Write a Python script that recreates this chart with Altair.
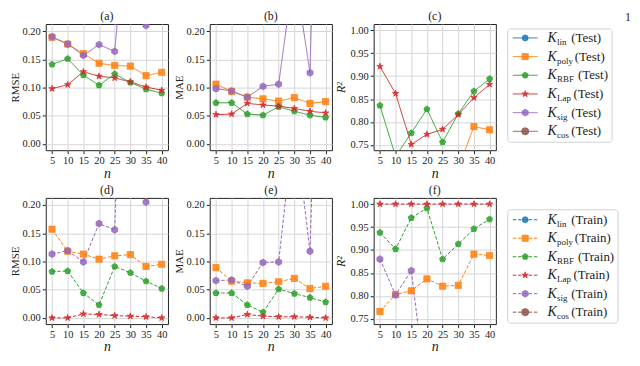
import altair as alt
import pandas as pd

FONT = "Liberation Serif"

n_values = [5, 10, 15, 20, 25, 30, 35, 40]
kernels = ["lin", "poly", "RBF", "Lap", "sig", "cos"]
kernel_colors = ["#1f77b4", "#ff7f0e", "#2ca02c", "#d62728", "#9467bd", "#8c564b"]

# ---- Test ----
rmse_test_poly = [0.189, 0.177, 0.160, 0.143, 0.139, 0.138, 0.121, 0.127]
rmse_test_rbf = [0.141, 0.151, 0.122, 0.104, 0.124, 0.109, 0.097, 0.090]
rmse_test_lap = [0.098, 0.105, 0.128, 0.120, 0.117, 0.110, 0.101, 0.095]
rmse_test_sig = [0.190, 0.177, 0.157, 0.176, 0.164, 0.47, 0.210, 0.60]

mae_test_poly = [0.106, 0.093, 0.083, 0.080, 0.076, 0.082, 0.072, 0.075]
mae_test_rbf = [0.073, 0.073, 0.053, 0.051, 0.066, 0.058, 0.051, 0.047]
mae_test_lap = [0.052, 0.053, 0.072, 0.069, 0.067, 0.063, 0.058, 0.055]
mae_test_sig = [0.098, 0.094, 0.083, 0.102, 0.106, 0.31, 0.126, 1.2]

r2_test_poly = [0.70, 0.61, 0.62, 0.69, 0.70, 0.70, 0.790, 0.783]
r2_test_rbf = [0.836, 0.725, 0.776, 0.828, 0.756, 0.818, 0.867, 0.894]
r2_test_lap = [0.921, 0.862, 0.751, 0.773, 0.784, 0.816, 0.853, 0.882]
r2_test_sig = [0.70, 0.61, 0.63, 0.52, 0.58, -2.3, 0.37, -3.0]

# ---- Train ----
rmse_train_poly = [0.157, 0.118, 0.113, 0.104, 0.110, 0.112, 0.091, 0.095]
rmse_train_rbf = [0.082, 0.083, 0.044, 0.023, 0.091, 0.080, 0.065, 0.052]
rmse_train_lap = [0.000, 0.000, 0.007, 0.006, 0.004, 0.003, 0.002, 0.000]
rmse_train_sig = [0.113, 0.119, 0.099, 0.167, 0.156, 1.0, 0.205, 1.2]

mae_train_poly = [0.089, 0.065, 0.062, 0.061, 0.064, 0.070, 0.052, 0.056]
mae_train_rbf = [0.044, 0.044, 0.023, 0.010, 0.051, 0.043, 0.036, 0.028]
mae_train_lap = [0.000, 0.000, 0.006, 0.003, 0.002, 0.002, 0.001, 0.000]
mae_train_sig = [0.066, 0.067, 0.056, 0.098, 0.099, 0.35, 0.118, 1.0]

r2_train_poly = [0.766, 0.803, 0.811, 0.837, 0.821, 0.823, 0.891, 0.888]
r2_train_rbf = [0.938, 0.902, 0.970, 0.991, 0.880, 0.913, 0.946, 0.967]
r2_train_lap = [1.000, 1.000, 1.000, 1.000, 1.000, 1.000, 1.000, 1.000]
r2_train_sig = [0.880, 0.802, 0.855, 0.58, 0.64, -5.0, 0.45, -6.0]

panel_titles = ["(a)", "(b)", "(c)", "(d)", "(e)", "(f)"]
err_ticks = [0.00, 0.05, 0.10, 0.15, 0.20]
r2_ticks = [0.75, 0.80, 0.85, 0.90, 0.95, 1.00]

series = {
    ("RMSE", "Test"): {"poly": rmse_test_poly, "RBF": rmse_test_rbf, "Lap": rmse_test_lap, "sig": rmse_test_sig},
    ("MAE", "Test"): {"poly": mae_test_poly, "RBF": mae_test_rbf, "Lap": mae_test_lap, "sig": mae_test_sig},
    ("R²", "Test"): {"poly": r2_test_poly, "RBF": r2_test_rbf, "Lap": r2_test_lap, "sig": r2_test_sig},
    ("RMSE", "Train"): {"poly": rmse_train_poly, "RBF": rmse_train_rbf, "Lap": rmse_train_lap, "sig": rmse_train_sig},
    ("MAE", "Train"): {"poly": mae_train_poly, "RBF": mae_train_rbf, "Lap": mae_train_lap, "sig": mae_train_sig},
    ("R²", "Train"): {"poly": r2_train_poly, "RBF": r2_train_rbf, "Lap": r2_train_lap, "sig": r2_train_sig},
}

PENTAGON = "M0,-1L0.951,-0.309L0.588,0.809L-0.588,0.809L-0.951,-0.309Z"
STAR = ("M0,-1L0.2245,-0.309L0.951,-0.309L0.3633,0.118L0.588,0.809L0,0.382"
        "L-0.588,0.809L-0.3633,0.118L-0.951,-0.309L-0.2245,-0.309Z")
HEXAGON = "M0,-1L0.866,-0.5L0.866,0.5L0,1L-0.866,0.5L-0.866,-0.5Z"
shape_range = ["circle", "square", PENTAGON, STAR, HEXAGON, "circle"]
size_range = [36, 52, 52, 66, 50, 36]

W, H = 123, 127
DASH = {"Test": [1, 0], "Train": [3.5, 1.8]}

color_scale = alt.Scale(domain=kernels, range=kernel_colors)
color_enc = alt.Color("kernel:N", scale=color_scale, legend=None)
stroke_enc = alt.Stroke("kernel:N", scale=color_scale, legend=None)
shape_enc = alt.Shape("kernel:N", scale=alt.Scale(domain=kernels, range=shape_range), legend=None)
size_enc = alt.Size("kernel:O", scale=alt.Scale(domain=kernels, range=size_range), legend=None)


def panel(idx, metric, split):
    rows = []
    for k in kernels:
        vals = series[(metric, split)].get(k)
        if vals is None:
            continue
        for n, v in zip(n_values, vals):
            rows.append({"n": n, "value": v, "kernel": k})
    df = pd.DataFrame(rows)
    if metric == "R²":
        ydom, yt = [0.7385, 1.0135], r2_ticks
    else:
        ydom, yt = [-0.011, 0.2125], err_ticks
    base = alt.Chart(df).encode(
        x=alt.X("n:Q", scale=alt.Scale(domain=[3.0, 42.0], nice=False, zero=False),
                axis=alt.Axis(values=n_values, title="n", titleFontStyle="italic",
                              titleFontSize=14, titlePadding=0, labelFlush=False)),
        y=alt.Y("value:Q", scale=alt.Scale(domain=ydom, nice=False, zero=False),
                axis=alt.Axis(values=yt, format=".2f", title=metric, titlePadding=2,
                              titleFontStyle="italic" if metric == "R²" else "normal",
                              titleFontSize=12 if metric == "R²" else 11, labelFlush=False)),
        color=color_enc,
    )
    lines = base.mark_line(clip=True, strokeWidth=1.0, strokeDash=DASH[split])
    pts = base.mark_point(clip=True, filled=True, opacity=1, fillOpacity=0.85, strokeWidth=0.7).encode(
        shape=shape_enc, size=size_enc, stroke=stroke_enc)
    return alt.layer(lines, pts).properties(
        width=W, height=H, title=alt.Title(panel_titles[idx], fontSize=12, offset=1))


def legend_panel(split, box_w, box_top, box_bottom, first_y, step):
    d = pd.DataFrame({"kernel": kernels, "idx": list(range(6)), "sub": kernels,
                      "suffix": [f"({split})"] * 6})
    yenc = alt.Y("idx:Q", scale=alt.Scale(domain=[0, 5], range=[first_y, first_y + 5 * step]), axis=None)
    box = alt.Chart(pd.DataFrame({"k": [0]})).mark_rect(
        fill="white", stroke="#d0d0d0", strokeWidth=1, cornerRadius=3
    ).encode(x=alt.value(-30), x2=alt.value(-30 + box_w), y=alt.value(box_top), y2=alt.value(box_bottom))
    base = alt.Chart(d).encode(y=yenc)
    rule = base.mark_rule(strokeWidth=1.0, strokeDash=DASH[split]).encode(
        x=alt.value(-25), x2=alt.value(0), color=color_enc)
    pts = base.mark_point(filled=True, opacity=1, fillOpacity=0.85, strokeWidth=0.7).encode(
        x=alt.value(-12.5), shape=shape_enc, size=size_enc, color=color_enc, stroke=stroke_enc)
    ktxt = base.mark_text(text="K", font=FONT, fontStyle="italic", fontSize=14,
                          align="left", baseline="middle", color="#222").encode(x=alt.value(10))
    sub = base.mark_text(font=FONT, fontSize=9, align="left", baseline="middle",
                         dy=4, color="#222").encode(x=alt.value(19.5), text="sub:N")
    suffix = base.transform_calculate(
        sx="19.5 + length(datum.sub) * 3.6 + length(replace(datum.sub, regexp('[a-z]', 'g'), '')) * 2.3 + 3.5"
    ).mark_text(font=FONT, fontSize=13, align="left", baseline="middle", color="#222").encode(
        x=alt.X("sx:Q", scale=None), text="suffix:N")
    layers = [box, rule, pts, ktxt, sub, suffix]
    if split == "Test":
        page = alt.Chart(pd.DataFrame({"k": [0]})).mark_text(
            text="1", font=FONT, fontSize=12, align="left", baseline="middle", color="#222"
        ).encode(x=alt.value(88), y=alt.value(-7))
        layers.append(page)
    return alt.layer(*layers).properties(width=80, height=H,
                                         view=alt.ViewBackground(stroke="transparent"))


charts = [
    panel(0, "RMSE", "Test"), panel(1, "MAE", "Test"), panel(2, "R²", "Test"),
    legend_panel("Test", 105, 5, 119, 14, 18.8),
    panel(3, "RMSE", "Train"), panel(4, "MAE", "Train"), panel(5, "R²", "Train"),
    legend_panel("Train", 111, 12, 126, 22, 18.6),
]

chart = alt.concat(
    *charts, columns=4, spacing={"row": 48, "column": 42}, bounds="flush", align="each"
).properties(padding=0).configure_axis(
    grid=True, gridColor="#d6d6d6", gridWidth=1, domain=False,
    tickColor="#222", tickSize=3.5, tickWidth=1,
    labelFont=FONT, labelFontSize=10.5, labelColor="#222", labelPadding=2,
    titleFont=FONT, titleColor="#222", titleFontWeight="normal",
).configure_view(stroke="#222", strokeWidth=1).configure_title(
    font=FONT, fontWeight="normal", color="#222"
)

chart.save("out.html", embed_options={"renderer": "svg", "actions": False})
